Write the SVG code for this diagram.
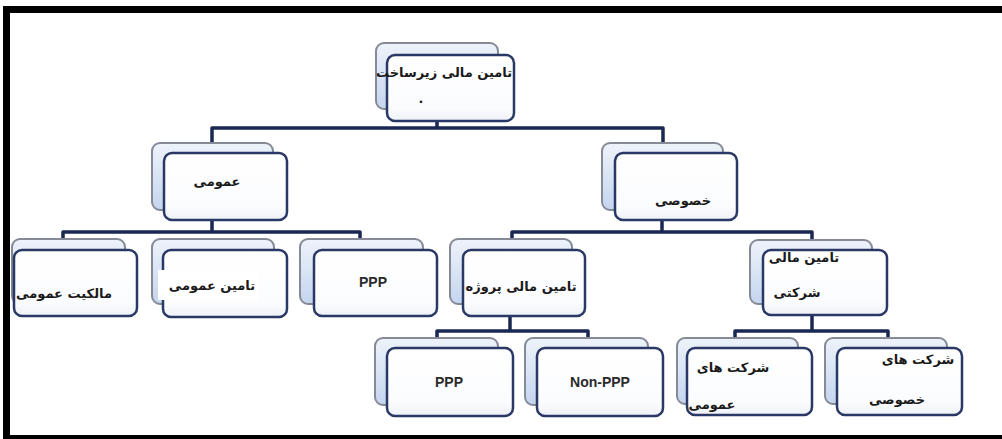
<svg xmlns="http://www.w3.org/2000/svg" width="1002" height="439" viewBox="0 0 1002 439">
  <defs>
    <linearGradient id="backFill" x1="0" y1="0" x2="0" y2="1">
      <stop offset="0" stop-color="#eef3fa"/>
      <stop offset="1" stop-color="#c4d5ef"/>
    </linearGradient>
    <linearGradient id="frontFill" x1="0" y1="0" x2="0" y2="1">
      <stop offset="0" stop-color="#ffffff"/>
      <stop offset="0.8" stop-color="#fbfcfe"/>
      <stop offset="1" stop-color="#eef1f7"/>
    </linearGradient>
  </defs>
  <style>
    .back { fill: url(#backFill); stroke: #858a96; stroke-width: 2; }
    .front { fill: url(#frontFill); stroke: #2a3866; stroke-width: 2.5; }
    .link { fill: none; stroke: #1a2753; stroke-width: 3.5; stroke-linejoin: round; }
    .fa { font-family: "DejaVu Sans", "Noto Sans", sans-serif; font-weight: bold; font-size: 13px; fill: #1a1a1a; }
    .en { font-family: "Liberation Sans", Arial, sans-serif; font-weight: bold; font-size: 14px; fill: #2a2a2a; }
    .frame { fill: #000000; }
  </style>

  <rect width="1002" height="439" fill="#ffffff"/>

  <!-- outer frame -->
  <rect class="frame" x="3" y="6" width="999" height="7"/>
  <rect class="frame" x="3" y="6" width="7" height="433"/>
  <rect class="frame" x="3" y="435" width="999" height="4"/>

  <!-- connectors (drawn under the cards) -->
  <g id="connectors">
    <path class="link" d="M437 118 V128 M212 150 V128 H663 V150"/>
    <path class="link" d="M212 218 V232 M63 250 V232 H360 V250"/>
    <path class="link" d="M662 218 V232 M512 250 V232 H812 V250"/>
    <path class="link" d="M510 315 V331 M437 348 V331 H588 V348"/>
    <path class="link" d="M812 313 V331 M735 348 V331 H888 V348"/>
  </g>

  <!-- root -->
  <g id="node-root">
    <rect class="back" x="376" y="43" width="122" height="66" rx="8"/>
    <rect class="front" x="387" y="55" width="127" height="66" rx="8"/>
    <text class="fa" x="444" y="77" text-anchor="middle" direction="rtl">تامین مالی زیرساخت</text>
    <text class="fa" x="421" y="103" font-size="9" text-anchor="middle">.</text>
  </g>

  <!-- public -->
  <g id="node-public">
    <rect class="back" x="152" y="143" width="121" height="67" rx="8"/>
    <rect class="front" x="164" y="153" width="123" height="67" rx="8"/>
    <text class="fa" x="217" y="186" text-anchor="middle" direction="rtl">عمومی</text>
  </g>

  <!-- private -->
  <g id="node-private">
    <rect class="back" x="602" y="143" width="121" height="67" rx="8"/>
    <rect class="front" x="615" y="153" width="122" height="67" rx="8"/>
    <text class="fa" x="683" y="205" text-anchor="middle" direction="rtl">خصوصی</text>
  </g>

  <!-- public ownership -->
  <g id="node-public-ownership">
    <rect class="back" x="12" y="239" width="113" height="65" rx="8"/>
    <rect class="front" x="14" y="250" width="123" height="66" rx="8"/>
    <text class="fa" x="64" y="298" text-anchor="middle" direction="rtl">مالکیت عمومی</text>
  </g>

  <!-- public finance -->
  <g id="node-public-finance">
    <rect class="back" x="152" y="239" width="122" height="65" rx="8"/>
    <rect class="front" x="163" y="250" width="124" height="67" rx="8"/>
    <rect x="158" y="270" width="100" height="30" fill="#ffffff"/>
    <text class="fa" x="212" y="290" text-anchor="middle" direction="rtl">تامین عمومی</text>
  </g>

  <!-- PPP (public) -->
  <g id="node-ppp-public">
    <rect class="back" x="300" y="239" width="123" height="65" rx="8"/>
    <rect class="front" x="314" y="250" width="123" height="66" rx="8"/>
    <text class="en" x="373" y="287" text-anchor="middle">PPP</text>
  </g>

  <!-- project finance -->
  <g id="node-project-finance">
    <rect class="back" x="450" y="239" width="122" height="65" rx="8"/>
    <rect class="front" x="463" y="250" width="122" height="66" rx="8"/>
    <text class="fa" x="521" y="291" text-anchor="middle" direction="rtl">تامین مالی پروژه</text>
  </g>

  <!-- corporate finance -->
  <g id="node-corporate-finance">
    <rect class="back" x="750" y="240" width="122" height="64" rx="8"/>
    <rect class="front" x="763" y="250" width="124" height="65" rx="8"/>
    <text class="fa" x="804" y="262" text-anchor="middle" direction="rtl">تامین مالی</text>
    <text class="fa" x="797" y="297" text-anchor="middle" direction="rtl">شرکتی</text>
  </g>

  <!-- PPP (project) -->
  <g id="node-ppp-project">
    <rect class="back" x="375" y="338" width="123" height="67" rx="8"/>
    <rect class="front" x="387" y="348" width="126" height="68" rx="8"/>
    <text class="en" x="449" y="387" text-anchor="middle">PPP</text>
  </g>

  <!-- non-PPP -->
  <g id="node-non-ppp">
    <rect class="back" x="525" y="338" width="123" height="67" rx="8"/>
    <rect class="front" x="537" y="348" width="126" height="68" rx="8"/>
    <text class="en" x="600" y="387" text-anchor="middle">Non-PPP</text>
  </g>

  <!-- public companies -->
  <g id="node-public-companies">
    <rect class="back" x="677" y="338" width="121" height="66" rx="8"/>
    <rect class="front" x="687" y="348" width="125" height="67" rx="8"/>
    <text class="fa" x="733" y="372" text-anchor="middle" direction="rtl">شرکت های</text>
    <text class="fa" x="712" y="409" text-anchor="middle" direction="rtl">عمومی</text>
  </g>

  <!-- private companies -->
  <g id="node-private-companies">
    <rect class="back" x="825" y="338" width="122" height="66" rx="8"/>
    <rect class="front" x="837" y="348" width="125" height="67" rx="8"/>
    <text class="fa" x="918" y="364" text-anchor="middle" direction="rtl">شرکت های</text>
    <text class="fa" x="897" y="404" text-anchor="middle" direction="rtl">خصوصی</text>
  </g>
</svg>
